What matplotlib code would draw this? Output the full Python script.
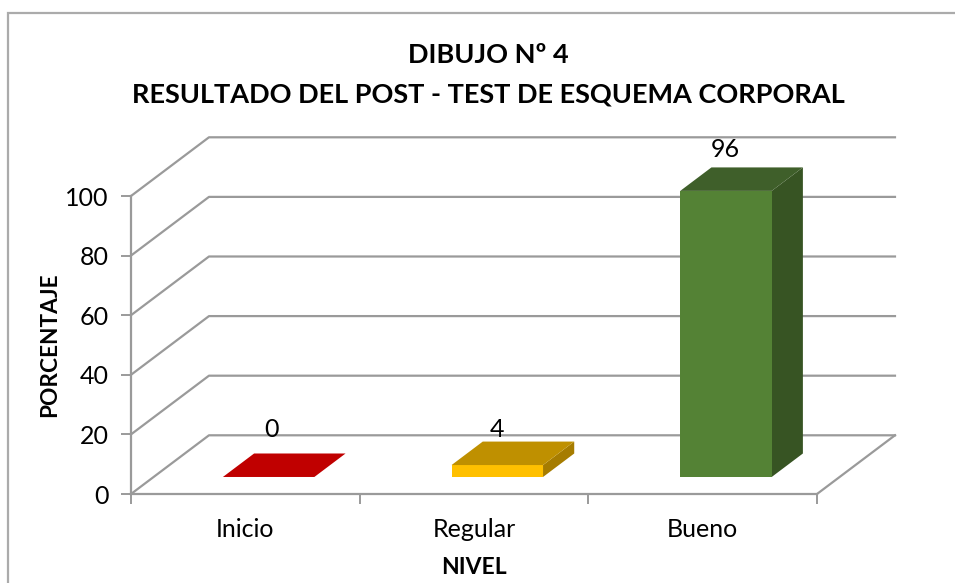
import matplotlib
matplotlib.use('Agg')
import matplotlib.pyplot as plt
from matplotlib.patches import Polygon, Rectangle

plt.rcParams['font.family'] = ['Lato', 'DejaVu Sans']

# datos del grafico
categorias = ['Inicio', 'Regular', 'Bueno']
valores = [0, 4, 96]
color_frente = ['#C00000', '#FFC000', '#548235']
color_arriba = ['#C00000', '#BF9000', '#3F5F2A']
color_lado = ['#A00000', '#A67C00', '#375423']
ticks_y = [0, 20, 40, 60, 80, 100]

# perspectiva falsa 3D: cuanto se corre el fondo en unidades de los ejes
FONDO_X = 0.341
FONDO_Y = 19.7
ANCHO = 0.40
Z0 = 0.29
Z1 = 0.69
GRIS = '#9A9A9A'

# altura de cada etiqueta sobre su valor, y ajuste horizontal
etiqueta_dy = [21.8, 17.8, 19.7]
etiqueta_dx = [0.016, 0.0, 0.0]


def proy(x, y, z):
    return (x + z * FONDO_X, y + z * FONDO_Y)


fig = plt.figure(figsize=(9.55, 5.83), dpi=100)
ax = fig.add_axes([131 / 955, (583 - 494) / 583, 686 / 955, 298 / 583])
ax.set_xlim(0, 3)
ax.set_ylim(0, 100)
ax.patch.set_visible(False)

# marco exterior
fig.add_artist(Rectangle((8 / 955, -0.05), 2, 1.05 - 13 / 583, transform=fig.transFigure,
                         fill=False, edgecolor='#ABABAB', linewidth=1.6))

# paredes y rejilla
for t in ticks_y:
    xs, ys = zip(proy(0, t, 0), proy(0, t, 1), proy(3, t, 1))
    ax.plot(xs, ys, color=GRIS, linewidth=1.6, clip_on=False, zorder=1)
xs, ys = zip(proy(3, 0, 0), proy(3, 0, 1))
ax.plot(xs, ys, color=GRIS, linewidth=1.6, clip_on=False, zorder=1)

# barras
for i, v in enumerate(valores):
    x0 = i + 0.503 - ANCHO / 2
    x1 = i + 0.503 + ANCHO / 2
    frente = [proy(x0, 0, Z0), proy(x1, 0, Z0), proy(x1, v, Z0), proy(x0, v, Z0)]
    arriba = [proy(x0, v, Z0), proy(x1, v, Z0), proy(x1, v, Z1), proy(x0, v, Z1)]
    lado = [proy(x1, 0, Z0), proy(x1, 0, Z1), proy(x1, v, Z1), proy(x1, v, Z0)]
    if v > 0:
        ax.add_patch(Polygon(lado, color=color_lado[i], linewidth=0, clip_on=False, zorder=3))
        ax.add_patch(Polygon(frente, color=color_frente[i], linewidth=0, clip_on=False, zorder=3))
    ax.add_patch(Polygon(arriba, color=color_arriba[i], linewidth=0, clip_on=False, zorder=3))
    lx = proy(i + 0.5, v, Z0)[0] + etiqueta_dx[i]
    ax.text(lx, v + etiqueta_dy[i], str(v), ha='center', va='center', fontsize=18,
            color='black', zorder=4, clip_on=False)

# ejes
for lado_eje in ['top', 'right']:
    ax.spines[lado_eje].set_visible(False)
for lado_eje in ['left', 'bottom']:
    ax.spines[lado_eje].set_color(GRIS)
    ax.spines[lado_eje].set_linewidth(1.6)
ax.set_yticks(ticks_y)
ax.set_yticklabels([str(t) for t in ticks_y], fontsize=18)
ax.set_xticks([0, 1, 2, 3])
ax.set_xticklabels([])
ax.set_xticks([0.5, 1.5, 2.5], minor=True)
ax.set_xticklabels(categorias, minor=True, fontsize=18)
ax.tick_params(axis='x', which='major', color=GRIS, length=7, width=1.4)
ax.tick_params(axis='x', which='minor', length=0, pad=17)
ax.tick_params(axis='y', color=GRIS, length=7, width=1.4, pad=9)
ax.set_ylabel('PORCENTAJE', fontsize=16.3, fontweight='bold', labelpad=4)
ax.set_xlabel('NIVEL', fontsize=16.5, fontweight='bold', labelpad=12)

# titulo
fig.text(488 / 955, 1 - 55 / 583, 'DIBUJO Nº 4', ha='center', va='center',
         fontsize=19.5, fontweight='bold')
fig.text(488 / 955, 1 - 94 / 583, 'RESULTADO DEL POST - TEST DE ESQUEMA CORPORAL', ha='center',
         va='center', fontsize=19.5, fontweight='bold')

fig.savefig('out.png', dpi=100)
